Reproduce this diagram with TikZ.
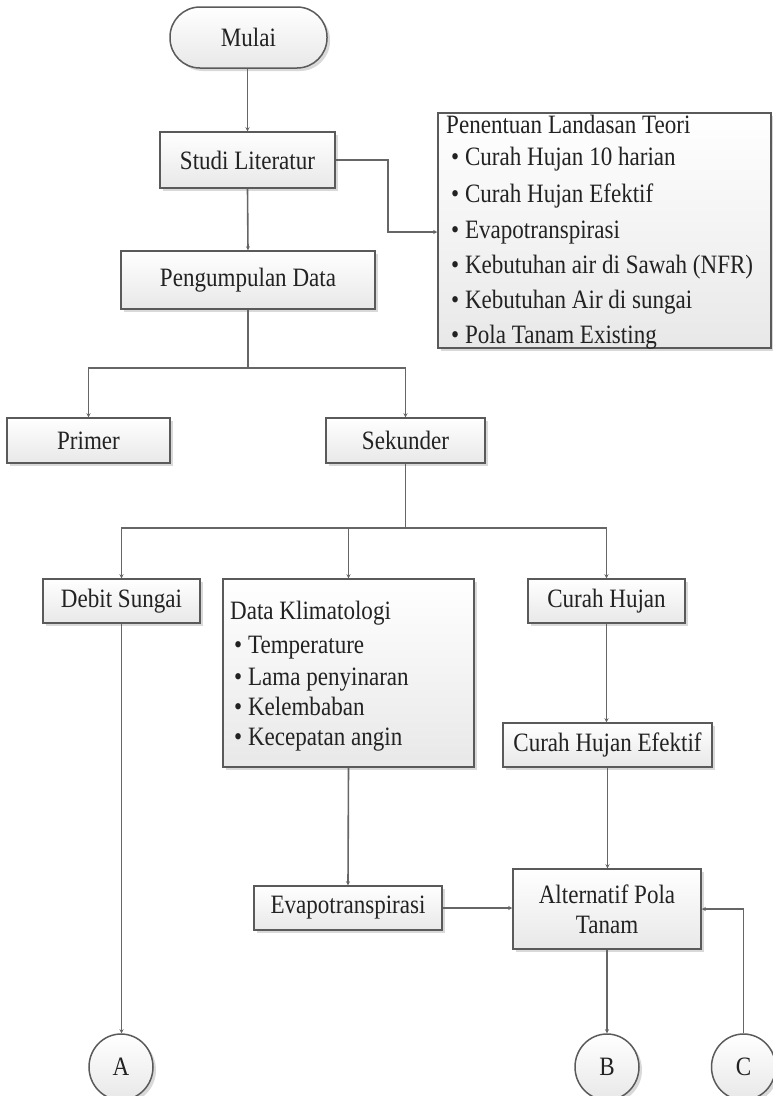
\documentclass[tikz,border=0pt]{standalone}
\usepackage{fontspec}
\setmainfont{Liberation Serif}[FakeStretch=0.87]
\usetikzlibrary{arrows.meta,shadows,shapes.geometric}
\definecolor{edge}{HTML}{5A5A5A}
\definecolor{wirec}{HTML}{666666}
\definecolor{ink}{HTML}{222222}
\definecolor{shade}{HTML}{D9D9D9}
\definecolor{fillbot}{HTML}{E8E8E8}
\newcommand{\bodyfont}{\fontsize{26.5}{30}\selectfont}
\tikzset{
  box/.style={draw=edge, line width=1.5pt, top color=white, bottom color=fillbot,
    drop shadow={shadow xshift=3pt, shadow yshift=-3pt, fill=shade, opacity=1},
    inner sep=0pt, text=ink, font=\bodyfont, align=center},
  wire/.style={draw=wirec, line width=1.6pt, -{Stealth[length=4pt,width=4pt]}},
  plain/.style={draw=wirec, line width=1.6pt},
  txt/.style={anchor=base west, inner sep=0pt, text=ink, font=\bodyfont}
}
\begin{document}
\begin{tikzpicture}[x=1pt,y=-1pt]
\useasboundingbox (0,0) rectangle (772,1096);
% nodes
\node[box, rounded corners=30pt, minimum width=157pt, minimum height=61pt] (mulai) at (248.5,37.5) {Mulai};
\node[box, minimum width=175pt, minimum height=56pt] (studi) at (247.5,160) {Studi Literatur};
\node[box, minimum width=333pt, minimum height=235pt] (teori) at (604.5,230.5) {};
\node[txt] (t0) at (446,133) {Penentuan Landasan Teori};
\node[txt] (t1) at (451,165) {\textbullet\ Curah Hujan 10 harian};
\node[txt] (t2) at (451,202) {\textbullet\ Curah Hujan Efektif};
\node[txt] (t3) at (451,238) {\textbullet\ Evapotranspirasi};
\node[txt] (t4) at (451,273) {\textbullet\ Kebutuhan air di Sawah (NFR)};
\node[txt] (t5) at (451,308) {\textbullet\ Kebutuhan Air di sungai};
\node[txt] (t6) at (451,343) {\textbullet\ Pola Tanam Existing};
\node[box, minimum width=254pt, minimum height=58pt] (kumpul) at (248,280) {Pengumpulan Data};
\node[box, minimum width=163pt, minimum height=45pt] (primer) at (88.5,440.5) {Primer};
\node[box, minimum width=159pt, minimum height=45pt] (sekunder) at (405.5,440.5) {Sekunder};
\node[box, minimum width=157pt, minimum height=44pt] (debit) at (121.5,601) {Debit Sungai};
\node[box, minimum width=251pt, minimum height=188pt] (klima) at (348.5,673) {};
\node[txt] (k0) at (230,619) {Data Klimatologi};
\node[txt] (k1) at (234,653) {\textbullet\ Temperature};
\node[txt] (k2) at (234,685) {\textbullet\ Lama penyinaran};
\node[txt] (k3) at (234,715) {\textbullet\ Kelembaban};
\node[txt] (k4) at (234,745) {\textbullet\ Kecepatan angin};
\node[box, minimum width=157pt, minimum height=44pt] (curah) at (606.5,601) {Curah Hujan};
\node[box, minimum width=209pt, minimum height=44pt] (efektif) at (607.5,745) {Curah Hujan Efektif};
\node[box, minimum width=188pt, minimum height=44pt] (evapo) at (348,908) {Evapotranspirasi};
\node[box, minimum width=188pt, minimum height=80pt] (alt) at (607,909) {Alternatif Pola\\[0pt]Tanam};
\node[box, ellipse, minimum width=64pt, minimum height=66pt] (A) at (121,1067) {A};
\node[box, ellipse, minimum width=64pt, minimum height=66pt] (B) at (607,1067) {B};
\node[box, ellipse, minimum width=64pt, minimum height=66pt] (C) at (743.5,1067) {C};
% connectors
\draw[wire] (mulai.south -| studi.north) -- (studi.north);
\coordinate (s1) at (388,160);
\coordinate (s2) at (388,232);
\draw[wire] (studi.east) -- (s1) -- (s2) -- (teori.west |- s2);
\draw[wire] (studi.south) -- (kumpul.north);
\coordinate (j1) at (248,368);
\draw[plain] (kumpul.south) -- (j1);
\draw[wire] (j1) -| (primer.north);
\draw[wire] (j1) -| (sekunder.north);
\coordinate (j2) at (405.5,528);
\draw[plain] (sekunder.south) -- (j2);
\draw[wire] (j2) -| (debit.north);
\draw[wire] (j2) -| (klima.north);
\draw[wire] (j2) -| (curah.north);
\draw[wire] (debit.south) -- (debit.south |- A.north);
\draw[wire] (klima.south) -- (evapo.north);
\draw[wire] (curah.south) -- (curah.south |- efektif.north);
\draw[wire] (efektif.south) -- (efektif.south |- alt.north);
\draw[wire] (evapo.east) -- (evapo.east -| alt.west);
\draw[wire] (alt.south) -- (B.north);
\draw[wire] (C.north) |- (alt.east);
\end{tikzpicture}
\end{document}
